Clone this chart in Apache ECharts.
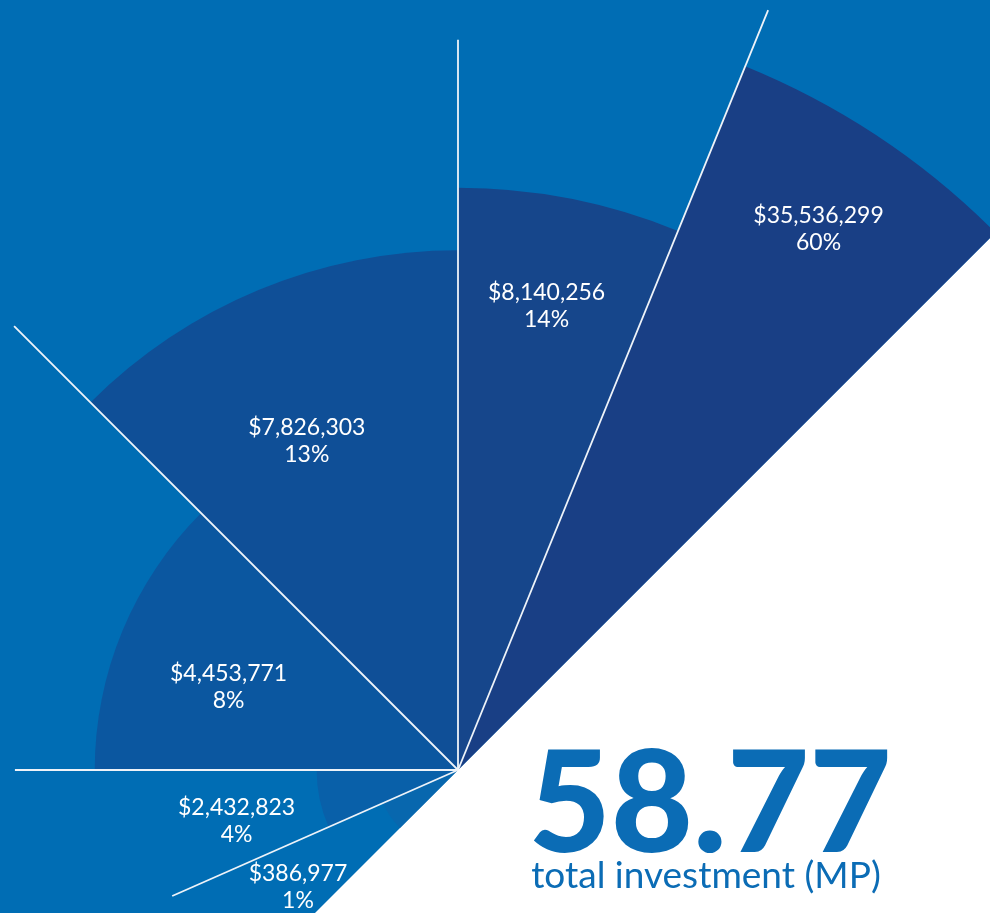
<!DOCTYPE html>
<html>
<head>
<meta charset="utf-8">
<title>total investment (MP)</title>
<script src="https://cdn.jsdelivr.net/npm/echarts@6/dist/echarts.min.js"></script>
<style>
  html, body { margin: 0; padding: 0; background: #fff; }
  #main { width: 990px; height: 913px; }
</style>
</head>
<body>
<div id="main"></div>
<script>
// values
const amounts = ['$35,536,299', '$8,140,256', '$7,826,303', '$4,453,771', '$2,432,823', '$386,977'];
const shares = ['60%', '14%', '13%', '8%', '4%', '1%'];
// sector length, in % of the longest one
const sectorRadius = [100, 76.6, 68.4, 47.8, 18.6, 10.8];
// boundaries between sectors, degrees counterclockwise from east
const boundaryAngles = [45, 67.8, 90, 135, 180, 203.8, 225];
// white divider lines at the inner boundaries (same units as sectorRadius)
const dividerLength = [108, 96.1, 82.6, 58.3, 41.1];
const totalValue = '58.77';
const totalCaption = 'total investment (MP)';

// look
const sectorColors = ['#193f85', '#16468b', '#0f4f97', '#0b57a0', '#0960a9', '#0867ae'];
const labelRadius = [85.5, 62.2, 47.6, 32.1, 29.9, 26.1];
const labelAngle = [56.3, 79.2, 114.7, 160.1, 193.0, 216.2];
const bgBlue = '#006db4';
const font = 'Lato, "Open Sans", sans-serif';

const chart = echarts.init(document.getElementById('main'));

const seriesData = sectorRadius.map((r, i) => [
  r, boundaryAngles[i], boundaryAngles[i + 1], i > 0 ? dividerLength[i - 1] : 0
]);

// angle of a point on screen, measured from the polar center
const screenAngle = (c, p) => Math.atan2(p[1] - c[1], p[0] - c[0]);

function renderItem(params, api) {
  const i = params.dataIndex;
  const r = api.value(0);
  const a0 = api.value(1);
  const a1 = api.value(2);
  const divLen = api.value(3);
  const c = api.coord([0, 0]);
  const p0 = api.coord([r, a0]);
  const p1 = api.coord([r, a1]);
  const rPx = Math.hypot(p0[0] - c[0], p0[1] - c[1]);
  let s = screenAngle(c, p0);
  const e = screenAngle(c, p1);
  while (s <= e) s += Math.PI * 2;

  const children = [{
    type: 'sector',
    shape: { cx: c[0], cy: c[1], r0: 0, r: rPx, startAngle: e, endAngle: s, clockwise: true },
    style: { fill: sectorColors[i] }
  }];

  if (divLen > 0) {
    const q = api.coord([divLen, a0]);
    children.push({
      type: 'line',
      z2: 20,
      shape: { x1: c[0], y1: c[1], x2: q[0], y2: q[1] },
      style: { stroke: '#eef3f9', lineWidth: 1.8 }
    });
  }

  const lp = api.coord([labelRadius[i], labelAngle[i]]);
  children.push({
    type: 'text',
    z2: 30,
    x: lp[0],
    y: lp[1],
    style: {
      text: amounts[i] + '\n' + shares[i],
      fill: '#ffffff',
      font: '23px ' + font,
      lineHeight: 27,
      align: 'center',
      verticalAlign: 'middle'
    }
  });

  return { type: 'group', children: children };
}

const option = {
  backgroundColor: bgBlue,
  animation: false,
  polar: { center: [458, 770], radius: 760 },
  angleAxis: {
    type: 'value', min: 0, max: 360, startAngle: 0, clockwise: false,
    axisLine: { show: false }, axisTick: { show: false },
    axisLabel: { show: false }, splitLine: { show: false }
  },
  radiusAxis: {
    type: 'value', min: 0, max: 100,
    axisLine: { show: false }, axisTick: { show: false },
    axisLabel: { show: false }, splitLine: { show: false }
  },
  graphic: [
    {
      type: 'polygon',
      z: -1,
      shape: { points: [[312, 916], [993, 235], [993, 916]] },
      style: { fill: '#ffffff' }
    },
    {
      type: 'text',
      x: 710,
      y: 806,
      style: {
        text: totalValue,
        fill: '#0b6cb5',
        font: '900 142px ' + font,
        align: 'center',
        verticalAlign: 'middle'
      }
    },
    {
      type: 'text',
      x: 706,
      y: 876,
      style: {
        text: totalCaption,
        fill: '#0b6cb5',
        font: '37px ' + font,
        align: 'center',
        verticalAlign: 'middle'
      }
    }
  ],
  series: [{
    type: 'custom',
    coordinateSystem: 'polar',
    clip: false,
    silent: true,
    renderItem: renderItem,
    data: seriesData
  }]
};

chart.setOption(option);
</script>
</body>
</html>
